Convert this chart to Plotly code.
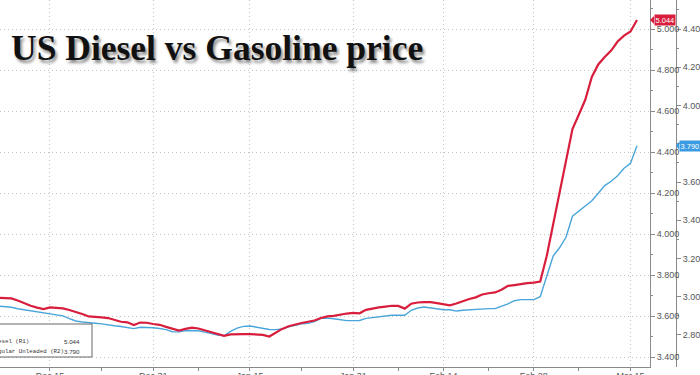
import pandas as pd
import plotly.graph_objects as go

# ---------------- data ----------------
start_date = "2021-12-07"
diesel = [3.689, 3.688, 3.686, 3.676, 3.663, 3.650, 3.641, 3.634, 3.642, 3.641,
          3.637, 3.629, 3.620, 3.610, 3.598, 3.594, 3.593, 3.590, 3.580, 3.572,
          3.569, 3.556, 3.568, 3.567, 3.561, 3.557, 3.547, 3.539, 3.529, 3.537,
          3.543, 3.539, 3.530, 3.522, 3.512, 3.503, 3.510, 3.512, 3.512, 3.512,
          3.511, 3.508, 3.500, 3.519, 3.537, 3.550, 3.559, 3.566, 3.572, 3.578,
          3.590, 3.598, 3.601, 3.607, 3.612, 3.615, 3.613, 3.630, 3.637, 3.642,
          3.646, 3.650, 3.649, 3.636, 3.660, 3.666, 3.668, 3.668, 3.663, 3.659,
          3.652, 3.661, 3.674, 3.683, 3.691, 3.705, 3.711, 3.715, 3.728, 3.747,
          3.751, 3.757, 3.760, 3.763, 3.768, 3.891, 4.045, 4.205, 4.363, 4.512,
          4.583, 4.656, 4.766, 4.827, 4.863, 4.895, 4.939, 4.968, 4.988, 5.044]
gasoline = [2.951, 2.949, 2.945, 2.937, 2.932, 2.928, 2.920, 2.915, 2.912, 2.908,
            2.900, 2.886, 2.873, 2.868, 2.863, 2.861, 2.858, 2.852, 2.848, 2.844,
            2.838, 2.833, 2.840, 2.840, 2.838, 2.834, 2.828, 2.817, 2.816, 2.823,
            2.824, 2.822, 2.815, 2.806, 2.800, 2.796, 2.819, 2.836, 2.845, 2.847,
            2.841, 2.836, 2.829, 2.828, 2.831, 2.843, 2.851, 2.858, 2.861, 2.870,
            2.887, 2.888, 2.885, 2.879, 2.875, 2.875, 2.876, 2.887, 2.891, 2.893,
            2.898, 2.903, 2.903, 2.903, 2.929, 2.941, 2.946, 2.942, 2.936, 2.932,
            2.932, 2.925, 2.929, 2.932, 2.934, 2.937, 2.938, 2.938, 2.950, 2.963,
            2.979, 2.985, 2.985, 2.985, 3.000, 3.112, 3.212, 3.256, 3.311, 3.421,
            3.447, 3.475, 3.502, 3.541, 3.581, 3.604, 3.633, 3.672, 3.698, 3.790]
dates = pd.date_range(start_date, periods=len(diesel), freq="D")

x_tick_vals = ["2021-12-15", "2021-12-31", "2022-01-15", "2022-01-31",
               "2022-02-14", "2022-02-28", "2022-03-15"]
x_tick_text = ["Dec 15", "Dec 31", "Jan 15", "Jan 31", "Feb 14", "Feb 28", "Mar 15"]
x_minor_vals = ["2021-12-07", "2021-12-23", "2022-01-07", "2022-01-23",
                "2022-02-07", "2022-02-21", "2022-03-07"]

title_text = "US Diesel vs Gasoline price"
diesel_name = "Diesel (R1)"
gas_name = "Regular Unleaded (R2)"

RED = "#d81e3c"
BLUE = "#4aa6da"
TAGBLUE = "#3a9be3"
AXIS = "#8a8a8a"
GRID = "#c4c4c4"
TICKFONT = dict(family="Liberation Sans, Arial", size=9, color="#555555")

# ---------------- layout helpers ----------------
W, H = 700, 375
ML, MR, MT, MB = 0, 0, 0, 8
PLOT_RIGHT = 650          # pixel x of the R1 axis
R2_X = 676                # pixel x of the R2 axis
PH = H - MT - MB


def px(x):
    return (x - ML) / (W - ML - MR)


def py(y):
    return (MT + PH - y) / PH


fig = go.Figure()
fig.add_trace(go.Scatter(x=dates, y=gasoline, name=gas_name, mode="lines",
                         line=dict(color=BLUE, width=1.4), yaxis="y"))
fig.add_trace(go.Scatter(x=dates, y=diesel, name=diesel_name, mode="lines",
                         line=dict(color=RED, width=2.2), yaxis="y2"))

fig.update_layout(
    template="none",
    width=W, height=H,
    margin=dict(l=ML, r=MR, t=MT, b=MB, pad=0, autoexpand=False),
    paper_bgcolor="white", plot_bgcolor="white",
    showlegend=False,
    xaxis=dict(
        domain=[0, px(PLOT_RIGHT)], automargin=False,
        range=["2021-12-07 06:00", "2022-03-18 00:30"],
        tickvals=x_tick_vals, ticktext=x_tick_text,
        ticks="outside", ticklen=3, tickcolor=AXIS,
        tickfont=TICKFONT, ticklabelstandoff=-3,
        showgrid=True, gridcolor=GRID, griddash="1px,3px", gridwidth=1,
        showline=True, linecolor=AXIS, linewidth=1,
        minor=dict(tickvals=x_minor_vals, ticks="outside", ticklen=3,
                   tickcolor=AXIS, showgrid=False),
        zeroline=False,
    ),
    yaxis=dict(  # R2 gasoline
        side="right", anchor="free", position=px(R2_X), automargin=False,
        range=[2.6325, 4.5518],
        tick0=2.8, dtick=0.2, tickformat=".3f",
        ticks="outside", ticklen=4, tickcolor=AXIS,
        tickfont=TICKFONT,
        showgrid=False, zeroline=False,
        showline=True, linecolor=AXIS, linewidth=1,
        minor=dict(dtick=0.1, tick0=2.8, ticks="outside", ticklen=2,
                   tickcolor=AXIS, showgrid=False),
    ),
    yaxis2=dict(  # R1 diesel
        overlaying="y", side="right", anchor="x", automargin=False,
        range=[3.3512, 5.1415],
        tick0=3.4, dtick=0.2, tickformat=".3f",
        ticks="outside", ticklen=4, tickcolor=AXIS,
        tickfont=TICKFONT,
        showgrid=True, gridcolor=GRID, griddash="1px,3px", gridwidth=1,
        zeroline=False,
        showline=True, linecolor=AXIS, linewidth=1,
        minor=dict(dtick=0.1, tick0=3.4, ticks="outside", ticklen=2,
                   tickcolor=AXIS, showgrid=False),
    ),
)

# legend box (cut off at left, like the reference)
fig.add_shape(type="rect", xref="paper", yref="paper",
              x0=px(-10), x1=px(92), y0=py(357), y1=py(324),
              line=dict(color="#666666", width=1), fillcolor="white",
              layer="above")
mono = dict(family="Liberation Mono, DejaVu Sans Mono", size=5.8, color="#333333")
numf = dict(family="Liberation Sans, Arial", size=6.2, color="#333333")
fig.add_annotation(text=diesel_name, xref="paper", yref="paper", x=px(-10.4), y=py(341),
                   xanchor="left", yanchor="middle", showarrow=False, font=mono, borderpad=0)
fig.add_annotation(text=f"{diesel[-1]:.3f}", xref="paper", yref="paper", x=px(81), y=py(341),
                   xanchor="right", yanchor="middle", showarrow=False, font=numf, borderpad=0)
fig.add_annotation(text=gas_name, xref="paper", yref="paper", x=px(-10.4), y=py(351),
                   xanchor="left", yanchor="middle", showarrow=False, font=mono, borderpad=0)
fig.add_annotation(text=f"{gasoline[-1]:.3f}", xref="paper", yref="paper", x=px(81), y=py(351),
                   xanchor="right", yanchor="middle", showarrow=False, font=numf, borderpad=0)

# last-value tags on the axes
tagfont = dict(family="Liberation Sans, Arial", size=7.5, color="white")
d_half = 4 / 205
g_half = 4 / 191
fig.add_shape(type="path", xref="paper", yref="y2",
              path=f"M {px(PLOT_RIGHT)},{diesel[-1]} L {px(PLOT_RIGHT + 4)},{diesel[-1] + d_half} "
                   f"L {px(PLOT_RIGHT + 4)},{diesel[-1] - d_half} Z",
              fillcolor=RED, line=dict(width=0), layer="above")
fig.add_annotation(text=f"{diesel[-1]:.3f}", xref="paper", yref="y2", x=px(PLOT_RIGHT + 3.5),
                   y=diesel[-1], xanchor="left", yanchor="middle", showarrow=False,
                   font=tagfont, bgcolor=RED, borderpad=0.5)
fig.add_shape(type="path", xref="paper", yref="y",
              path=f"M {px(R2_X)},{gasoline[-1]} L {px(R2_X + 3)},{gasoline[-1] + g_half} "
                   f"L {px(R2_X + 3)},{gasoline[-1] - g_half} Z",
              fillcolor=TAGBLUE, line=dict(width=0), layer="above")
fig.add_annotation(text=f"{gasoline[-1]:.3f}", xref="paper", yref="y", x=px(R2_X + 2.5),
                   y=gasoline[-1], xanchor="left", yanchor="middle", showarrow=False,
                   font=tagfont, bgcolor=TAGBLUE, borderpad=0.5)

# title
fig.add_annotation(text=title_text, xref="paper", yref="paper", x=px(9), y=py(48),
                   xanchor="left", yanchor="middle", showarrow=False,
                   font=dict(family="Liberation Serif, Times New Roman", size=35.5,
                             color="#111111", weight="bold",
                             shadow="2px 3px 3px rgba(0,0,0,0.45)"))

# remove the browser's default page margin so the figure sits at the window's corner
fig.write_html("out.html",
               config={"displayModeBar": False},
               post_script="document.body.style.margin='0';document.body.style.padding='0';")
